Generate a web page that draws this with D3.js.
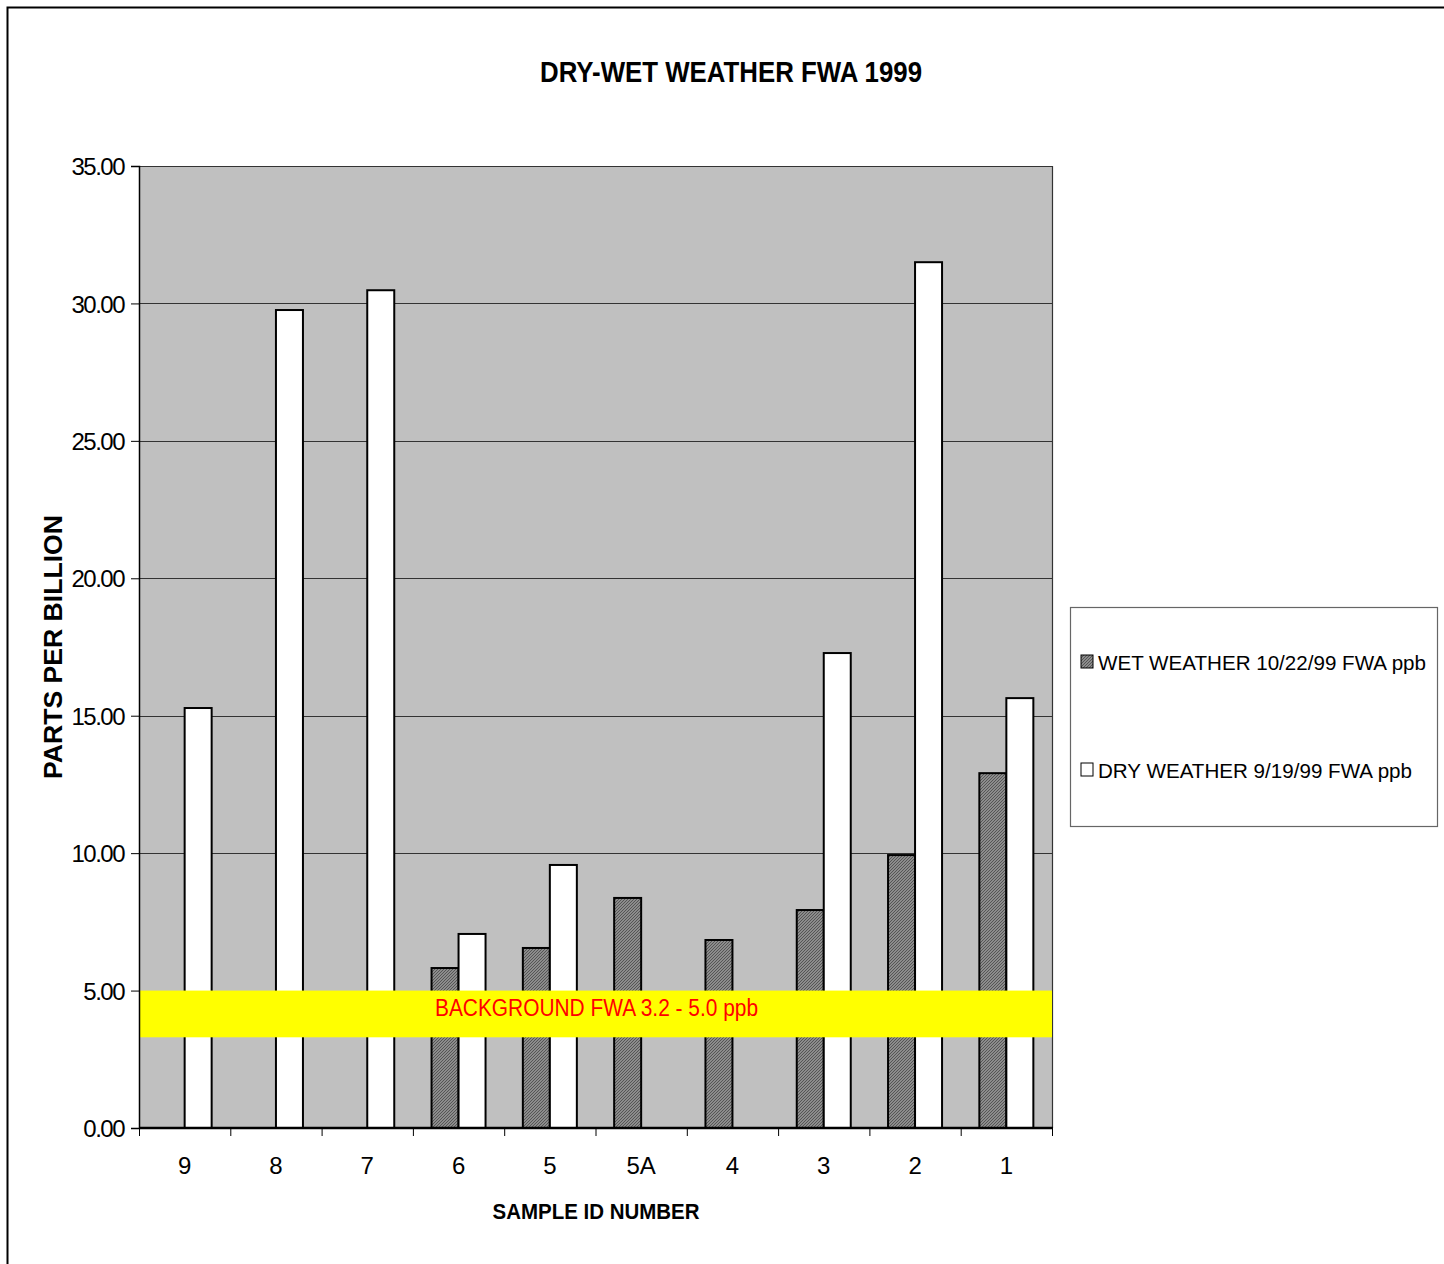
<!DOCTYPE html>
<html>
<head>
<meta charset="utf-8">
<script src="https://cdn.jsdelivr.net/npm/d3@7"></script>
<style>
  body { margin: 0; background: #fff; }
  svg text { font-family: "Liberation Sans", Arial, sans-serif; }
</style>
</head>
<body>
<div id="chart"></div>
<script>
// Sample IDs, left to right
const categories = ["9", "8", "7", "6", "5", "5A", "4", "3", "2", "1"];
// WET WEATHER 10/22/99 FWA ppb (null = no sample)
const wetValues = [null, null, null, 5.82, 6.55, 8.37, 6.84, 7.93, 9.93, 12.91];
// DRY WEATHER 9/19/99 FWA ppb
const dryValues = [15.28, 29.76, 30.48, 7.06, 9.57, null, null, 17.28, 31.5, 15.64];
const yTicks = [0, 5, 10, 15, 20, 25, 30, 35];
const backgroundBand = [3.3, 5.0];
const seriesNames = ["WET WEATHER 10/22/99 FWA ppb", "DRY WEATHER 9/19/99 FWA ppb"];

const width = 1444;
const height = 1264;
const plot = { left: 139, right: 1052, top: 166, bottom: 1128 };

const svg = d3.select("#chart")
  .append("svg")
  .attr("width", width)
  .attr("height", height);

// hatch pattern for the wet series
const defs = svg.append("defs");
const pat = defs.append("pattern")
  .attr("id", "hatch")
  .attr("patternUnits", "userSpaceOnUse")
  .attr("width", 3)
  .attr("height", 3);
pat.append("rect").attr("width", 3).attr("height", 3).attr("fill", "#8c8c8c");
pat.append("path").attr("d", "M0,3 L3,0").attr("stroke", "#555").attr("stroke-width", 1);

// outer chart border
svg.append("rect")
  .attr("x", 7.5).attr("y", 7.5)
  .attr("width", width + 20).attr("height", height + 20)
  .attr("fill", "none").attr("stroke", "#000").attr("stroke-width", 2);

const x = d3.scaleBand()
  .domain(categories)
  .range([plot.left, plot.right]);

const y = d3.scaleLinear()
  .domain([0, 35])
  .range([plot.bottom, plot.top]);

const barW = 27;

// plot background
svg.append("rect")
  .attr("x", plot.left).attr("y", plot.top)
  .attr("width", plot.right - plot.left).attr("height", plot.bottom - plot.top)
  .attr("fill", "#c0c0c0");

// gridlines
svg.append("g")
  .selectAll("line")
  .data(yTicks.filter((d) => d > 0 && d < 35))
  .enter()
  .append("line")
  .attr("x1", plot.left).attr("x2", plot.right)
  .attr("y1", (d) => Math.round(y(d)) + 0.5).attr("y2", (d) => Math.round(y(d)) + 0.5)
  .attr("stroke", "#333").attr("stroke-width", 1);

// plot border (top/right)
svg.append("path")
  .attr("d", `M${plot.left},${plot.top + 0.5}H${plot.right + 0.5}V${plot.bottom}`)
  .attr("fill", "none").attr("stroke", "#333").attr("stroke-width", 1.2);

// bars
const barData = [];
categories.forEach((c, i) => {
  if (wetValues[i] != null) barData.push({ cat: c, value: wetValues[i], s: 0 });
  if (dryValues[i] != null) barData.push({ cat: c, value: dryValues[i], s: 1 });
});

svg.append("g")
  .selectAll("rect")
  .data(barData)
  .enter()
  .append("rect")
  .attr("x", (d) => x(d.cat) + x.bandwidth() / 2 + (d.s === 0 ? -barW : 0))
  .attr("y", (d) => y(d.value))
  .attr("width", barW)
  .attr("height", (d) => y(0) - y(d.value))
  .attr("fill", (d) => (d.s === 0 ? "url(#hatch)" : "#fff"))
  .attr("stroke", "#000")
  .attr("stroke-width", 2);

// background FWA band
svg.append("rect")
  .attr("x", plot.left).attr("width", plot.right - plot.left)
  .attr("y", y(backgroundBand[1]))
  .attr("height", y(backgroundBand[0]) - y(backgroundBand[1]))
  .attr("fill", "#ffff00");

svg.append("text")
  .attr("x", (plot.left + plot.right) / 2 + 1)
  .attr("y", 1016)
  .attr("text-anchor", "middle")
  .attr("fill", "#ff0000")
  .attr("textLength", 323).attr("lengthAdjust", "spacingAndGlyphs")
  .style("font-size", "23px")
  .text("BACKGROUND FWA 3.2 - 5.0 ppb");

// y axis
const yAxis = svg.append("g")
  .attr("transform", `translate(${plot.left},0)`)
  .call(d3.axisLeft(y).tickValues(yTicks).tickFormat(d3.format(".2f")).tickSize(8).tickPadding(7));
yAxis.select(".domain").attr("stroke", "#000").attr("stroke-width", 1.5);
yAxis.selectAll(".tick line").attr("stroke", "#000");
yAxis.selectAll("text")
  .attr("fill", "#000")
  .attr("dy", "0.36em")
  .style("font-size", "24px")
  .style("font-family", "Liberation Sans, Arial, sans-serif")
  .style("letter-spacing", "-1.5px");

// x axis
const xAxis = svg.append("g")
  .attr("transform", `translate(0,${plot.bottom})`)
  .call(d3.axisBottom(x).tickSize(0).tickPadding(29));
xAxis.select(".domain").remove();
xAxis.selectAll("text")
  .attr("fill", "#000")
  .style("font-size", "24px")
  .style("font-family", "Liberation Sans, Arial, sans-serif");

svg.append("line")
  .attr("x1", plot.left).attr("x2", plot.right + 1)
  .attr("y1", plot.bottom).attr("y2", plot.bottom)
  .attr("stroke", "#000").attr("stroke-width", 2.5);

// category boundary ticks
svg.append("g")
  .selectAll("line")
  .data(categories.map((c) => x(c)).concat([plot.right]))
  .enter()
  .append("line")
  .attr("x1", (d) => d + 0.5).attr("x2", (d) => d + 0.5)
  .attr("y1", plot.bottom).attr("y2", plot.bottom + 8)
  .attr("stroke", "#000").attr("stroke-width", 1);

// title
svg.append("text")
  .attr("x", 731).attr("y", 82)
  .attr("text-anchor", "middle")
  .attr("textLength", 382).attr("lengthAdjust", "spacingAndGlyphs")
  .style("font-size", "30px").style("font-weight", "bold")
  .text("DRY-WET WEATHER FWA 1999");

// axis titles
svg.append("text")
  .attr("transform", `translate(62,${(plot.top + plot.bottom) / 2}) rotate(-90)`)
  .attr("text-anchor", "middle")
  .attr("textLength", 264).attr("lengthAdjust", "spacingAndGlyphs")
  .style("font-size", "26px").style("font-weight", "bold")
  .text("PARTS PER BILLION");

svg.append("text")
  .attr("x", 596).attr("y", 1219)
  .attr("text-anchor", "middle")
  .attr("textLength", 207).attr("lengthAdjust", "spacingAndGlyphs")
  .style("font-size", "22px").style("font-weight", "bold")
  .text("SAMPLE ID NUMBER");

// legend
const legend = svg.append("g");
legend.append("rect")
  .attr("x", 1070.5).attr("y", 607.5)
  .attr("width", 367).attr("height", 219)
  .attr("fill", "#fff").attr("stroke", "#666").attr("stroke-width", 1.2);

const legendWidths = [328, 314];
const legendItem = legend.selectAll(".legend-item")
  .data(seriesNames)
  .enter()
  .append("g")
  .attr("class", "legend-item")
  .attr("transform", (d, i) => `translate(1081,${655 + i * 108})`);

legendItem.append("rect")
  .attr("width", 12).attr("height", 13)
  .attr("fill", (d, i) => (i === 0 ? "url(#hatch)" : "#fff"))
  .attr("stroke", "#000").attr("stroke-width", 1);

legendItem.append("text")
  .attr("x", 17).attr("y", 15)
  .attr("textLength", (d, i) => legendWidths[i]).attr("lengthAdjust", "spacingAndGlyphs")
  .style("font-size", "21px")
  .text((d) => d);
</script>
</body>
</html>
